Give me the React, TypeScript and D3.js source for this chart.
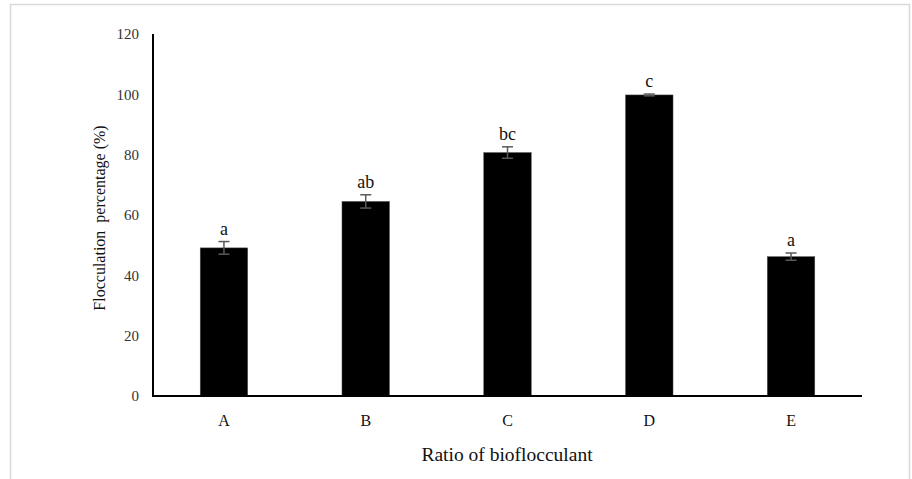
import { scaleBand, scaleLinear } from "d3";

const width = 912;
const height = 479;
const MARGIN = { top: 34, right: 50, bottom: 83, left: 153 };
const boundsWidth = width - MARGIN.left - MARGIN.right;
const boundsHeight = height - MARGIN.top - MARGIN.bottom;

const categories = ["A", "B", "C", "D", "E"];
const values = [49.1, 64.5, 80.7, 99.8, 46.2];
const errors = [2.1, 2.2, 1.9, 0.3, 1.2];
const letters = ["a", "ab", "bc", "c", "a"];
const yTicks = [0, 20, 40, 60, 80, 100, 120];

const FONT = "'Liberation Serif', 'Times New Roman', serif";

export default function App() {
  const xScale = scaleBand<string>()
    .domain(categories)
    .range([0, boundsWidth])
    .paddingInner(0.665)
    .paddingOuter(0.333);
  const yScale = scaleLinear().domain([0, 120]).range([boundsHeight, 0]);

  const bw = xScale.bandwidth();

  return (
    <svg
      width={width}
      height={height}
      style={{ position: "fixed", left: 0, top: 0, background: "#fff" }}
      fontFamily={FONT}
    >
      <rect x={0} y={0} width={width} height={height} fill="#fff" />
      <rect x={10.5} y={4.5} width={899} height={height + 10} fill="none" stroke="#d9d9d9" strokeWidth={1.5} />
      <g transform={`translate(${MARGIN.left},${MARGIN.top})`}>
        {yTicks.map((t) => (
          <text
            key={t}
            x={-14}
            y={yScale(t)}
            dy="0.35em"
            textAnchor="end"
            fontSize={15}
            fill="#333"
          >
            {t}
          </text>
        ))}
        {categories.map((c, i) => {
          const x = xScale(c) ?? 0;
          const cx = x + bw / 2;
          const top = yScale(values[i] + errors[i]);
          const bot = yScale(values[i] - errors[i]);
          return (
            <g key={c}>
              <rect
                x={x}
                y={yScale(values[i])}
                width={bw}
                height={boundsHeight - yScale(values[i])}
                fill="#000"
                stroke="#555"
                strokeWidth={0.5}
              />
              <line x1={cx} x2={cx} y1={top} y2={bot} stroke="#595959" strokeWidth={1.5} />
              <line x1={cx - 5.5} x2={cx + 5.5} y1={top} y2={top} stroke="#595959" strokeWidth={1.5} />
              <line x1={cx - 5.5} x2={cx + 5.5} y1={bot} y2={bot} stroke="#595959" strokeWidth={1.5} />
              <text x={cx} y={top - 7} textAnchor="middle" fontSize={18} fill="#111">
                {letters[i]}
              </text>
              <text x={cx} y={boundsHeight + 30} textAnchor="middle" fontSize={16} fill="#111">
                {c}
              </text>
            </g>
          );
        })}
        <line x1={0} x2={0} y1={0} y2={boundsHeight + 1} stroke="#000" strokeWidth={2} />
        <line x1={-1} x2={boundsWidth} y1={boundsHeight} y2={boundsHeight} stroke="#000" strokeWidth={2} />
      </g>
      <text
        transform={`translate(${105},${218}) rotate(-90)`}
        textAnchor="middle"
        fontSize={16}
        fill="#111"
        style={{ whiteSpace: "pre" }}
      >
        {"Flocculation  percentage (%)"}
      </text>
      <text x={507} y={461} textAnchor="middle" fontSize={19.5} fill="#111">
        Ratio of bioflocculant
      </text>
    </svg>
  );
}
